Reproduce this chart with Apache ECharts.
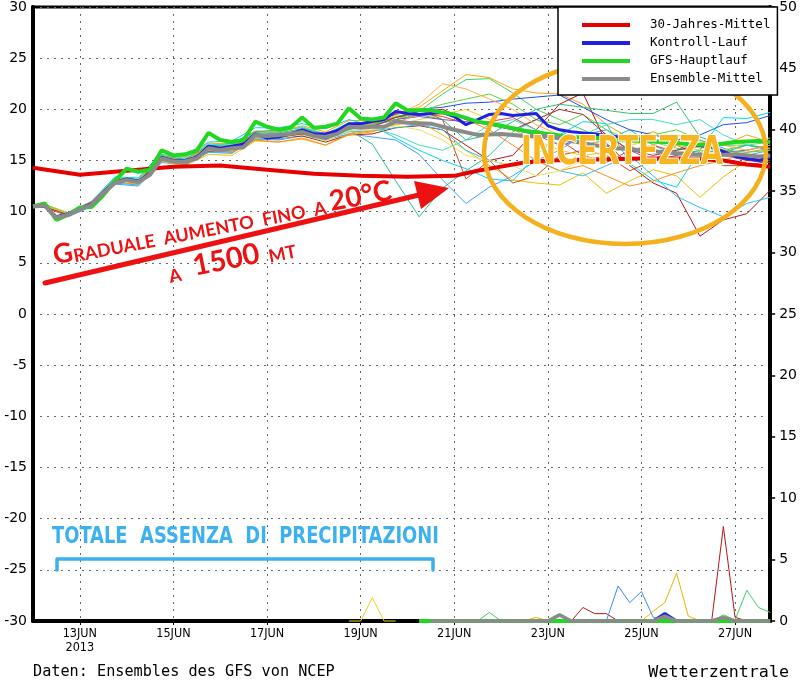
<!DOCTYPE html>
<html><head><meta charset="utf-8">
<script src="https://cdn.jsdelivr.net/npm/echarts@6/dist/echarts.min.js"></script>
<style>html,body{margin:0;padding:0;background:#fff}#c{width:800px;height:681px}</style>
</head><body><div id="c"></div>
<script>
// ---------- DATA (days since 12 Jun 2013 00Z) ----------
const tickDays = [1,3,5,7,9,11,13,15];
const tickLabels = ['13JUN\n2013','15JUN','17JUN','19JUN','21JUN','23JUN','25JUN','27JUN'];

const mainTimes = [0,0.25,0.5,0.75,1,1.25,1.5,1.75,2,2.25,2.5,2.75,3,3.25,3.5,3.75,4,4.25,4.5,4.75,5,5.25,5.5,5.75,6,6.25,6.5,6.75,7,7.25,7.5,7.75,8,8.5,9,9.5,10,10.5,11,11.5,12,12.5,13,13.5,14,14.5,15,15.5,15.75];
const gfsMain = [10.5,10.8,9.2,9.7,10.4,10.45,11.6,13.0,14.2,13.9,14.1,16.0,15.5,15.6,16.0,17.7,17.0,16.8,17.0,18.8,18.3,18.0,18.2,19.2,18.2,18.3,18.6,20.1,19.1,19.0,19.2,20.6,19.9,19.9,19.5,18.8,18.4,17.9,17.6,17.3,17.2,17.0,16.9,16.8,16.6,16.5,16.8,16.9,16.8];
const ensMean = [10.5,10.6,9.4,9.7,10.2,10.7,11.8,12.8,13.1,12.9,13.6,15.2,14.9,14.9,15.2,16.2,16.0,16.2,16.3,17.5,17.4,17.5,17.6,17.8,17.4,17.3,17.6,18.3,18.2,18.3,18.3,18.8,18.7,18.6,18.0,17.5,17.6,17.4,17.4,16.9,16.5,16.2,16.0,15.8,15.6,15.5,15.6,15.4,15.5];

const ctrlTimes = [0,0.25,0.5,0.75,1,1.25,1.5,1.75,2,2.25,2.5,2.75,3,3.25,3.5,3.75,4,4.25,4.5,4.75,5,5.25,5.5,5.75,6,6.25,6.5,6.75,7,7.25,7.5,7.75,8,8.25,8.5,8.75,9,9.25,9.5,9.75,10,10.25,10.5,10.75,11,11.25,11.5,11.75,12,12.5,13,13.5,14,14.5,15,15.5,15.75];
const control = [10.5,10.6,9.5,9.8,10.3,10.8,11.9,12.9,13.2,13.0,13.7,15.3,15.0,15.0,15.3,16.4,16.2,16.4,16.6,17.6,17.2,17.3,17.6,18.0,17.6,17.6,17.9,18.6,18.6,18.8,19.0,19.8,19.6,19.5,19.6,19.7,19.3,18.5,19.0,19.5,19.6,19.4,19.5,19.6,18.4,18.0,17.8,17.7,17.6,17.3,17.0,16.8,16.6,16.3,15.4,15.0,15.3];

const climTimes = [0,1,2,3,4,5,6,7,8,9,9.5,10,10.5,11,12,13,14,14.75,15.25,15.75];
const clim30 = [14.3,13.6,14.0,14.4,14.5,14.1,13.7,13.5,13.4,13.5,14.0,14.4,14.8,15.0,15.1,15.2,15.2,15.0,14.6,14.4];

const memberTimes = [0,0.25,0.75,1.25,1.75,2.25,2.75,3.25,3.75,4.25,4.75,5.25,5.75,6.25,6.75,7.25,7.75,8.25,8.75,9.25,9.75,10.25,10.75,11.25,11.75,12.25,12.75,13.25,13.75,14.25,14.75,15.25,15.75];
const m01 = [10.5,10.7,9.8,10.9,13.3,13.1,15.6,15.3,16.7,16.6,17.9,17.8,18.4,17.8,18.9,18.9,19.6,20.2,21.8,23.4,23.1,22.0,21.6,21.5,20.5,18.5,17.2,17.8,17.0,16.2,16.5,17.5,16.8];
const m02 = [10.5,10.5,9.6,10.6,12.9,12.7,15.1,14.7,15.9,15.8,17.0,17.3,17.5,17.0,18.0,18.5,19.3,19.8,21.5,22.9,23.0,21.6,20.0,19.0,18.0,17.0,17.5,16.8,16.2,15.8,16.0,16.5,16.2];
const m03 = [10.5,10.6,9.8,10.8,13.0,13.0,15.4,15.0,16.4,16.7,17.8,18.0,18.2,17.6,18.0,16.6,13.0,9.5,12.3,14.0,15.5,17.8,19.0,18.0,16.5,17.0,18.0,16.5,15.5,16.0,15.8,16.5,16.0];
const m04 = [10.5,10.6,9.5,10.5,12.7,12.5,14.8,14.6,15.8,15.7,17.1,17.0,17.4,17.0,17.6,17.3,17.0,15.6,13.1,10.8,12.4,13.5,15.0,16.0,17.5,18.0,16.5,15.0,16.0,17.0,16.2,15.5,16.0];
const m05 = [10.5,10.7,9.9,11.0,13.4,13.3,15.8,15.4,16.8,16.9,18.2,18.2,18.6,18.1,19.0,18.4,17.2,16.0,15.0,14.2,13.2,13.0,15.5,17.5,18.8,18.6,14.7,13.1,12.4,16.0,19.2,19.1,19.7];
const m06 = [10.5,10.4,9.6,10.7,13.0,12.8,15.0,14.6,15.9,16.0,17.2,17.2,17.4,16.8,17.5,17.6,18.2,18.4,18.0,16.5,15.0,15.5,18.0,20.5,21.6,16.7,14.5,12.8,11.8,7.6,9.2,9.8,12.1];
const m07 = [10.5,10.6,9.7,10.7,13.0,12.6,14.9,14.5,15.6,15.5,16.9,16.8,17.1,16.5,17.5,17.8,18.5,18.8,17.5,16.0,14.5,13.1,12.8,12.6,13.8,11.8,13.0,14.1,13.5,11.4,13.4,15.0,15.5];
const m08 = [10.5,10.6,9.7,10.9,13.2,13.0,15.4,15.1,16.4,16.4,17.7,17.6,18.0,17.5,18.6,18.8,19.5,20.0,20.2,20.6,20.7,21.0,21.2,21.4,20.2,19.0,18.0,17.5,17.0,17.5,18.5,18.7,19.4];
const m09 = [10.5,10.5,9.7,10.8,13.1,12.8,15.2,14.8,16.0,16.1,17.3,17.1,17.6,17.2,18.2,18.6,19.6,20.0,19.0,13.2,15.0,12.8,13.5,15.5,16.0,15.5,14.0,15.0,16.5,15.5,14.5,14.5,15.0];
const m10 = [10.5,10.6,9.8,10.9,13.2,13.1,15.5,15.1,16.5,16.5,17.8,17.7,18.1,17.6,18.6,18.5,19.0,19.5,19.0,17.0,17.5,18.8,20.0,20.5,20.2,19.9,19.6,19.6,20.7,17.3,16.5,16.5,16.2];
const m11 = [10.5,10.7,9.9,11.0,13.2,13.0,15.2,14.9,16.1,16.3,17.6,17.5,17.9,17.2,18.3,18.2,18.5,19.0,19.5,20.0,19.0,18.0,17.0,16.0,15.5,15.8,16.5,17.0,16.5,16.0,15.5,16.0,16.5];
const m12 = [10.5,10.5,9.6,10.6,12.8,12.6,15.0,14.6,15.8,15.9,17.1,17.1,17.6,17.0,17.8,17.9,18.2,18.5,18.0,16.0,15.0,14.5,15.0,14.0,13.5,14.5,15.5,13.5,11.5,10.4,9.5,10.8,11.4];
const m13 = [10.5,10.6,9.7,10.8,13.1,13.0,15.3,15.0,16.3,16.3,17.5,17.4,17.8,17.3,18.4,18.6,19.2,19.6,19.3,18.6,18.8,19.2,18.0,17.0,15.5,14.8,16.0,16.5,15.8,15.0,15.5,15.0,15.5];
const m14 = [10.5,10.6,9.7,10.8,13.0,12.9,15.2,14.9,16.2,16.1,17.4,17.5,17.7,17.2,18.3,18.4,19.0,19.3,19.0,18.8,18.5,18.0,17.5,16.5,17.0,17.5,16.0,15.0,15.5,16.5,15.8,16.0,16.5];
const m15 = [10.5,10.6,9.8,10.9,13.3,13.2,15.6,15.2,16.6,16.5,17.7,17.8,18.3,17.6,18.7,18.2,17.5,16.5,16.0,17.0,18.5,19.0,18.0,16.5,17.5,18.5,19.0,19.0,18.5,19.0,17.5,16.5,16.8];
const m16 = [10.5,10.5,9.6,10.7,12.9,12.7,15.0,14.7,16.0,15.8,17.0,16.8,17.2,16.5,17.6,17.9,18.7,19.5,20.0,19.0,18.0,16.5,15.0,14.0,14.5,13.5,12.5,13.0,13.8,14.5,15.0,15.8,16.2];
const m17 = [10.5,10.6,9.7,10.7,12.9,12.8,15.1,14.8,16.0,16.0,17.2,17.2,17.5,16.9,17.9,18.0,18.4,18.0,17.0,15.5,15.0,14.5,13.5,14.0,15.0,15.5,16.5,17.0,16.0,15.5,16.0,16.8,17.2];
const m18 = [10.5,10.7,9.8,10.9,13.1,13.0,15.3,15.0,16.3,16.4,17.6,17.5,17.9,17.4,18.5,18.5,19.0,19.8,20.5,21.0,21.5,20.5,19.0,18.5,19.5,18.0,17.0,17.5,18.0,17.0,16.0,15.8,16.0];
const m19 = [10.5,10.5,9.7,10.8,13.0,12.9,15.2,14.8,16.1,16.2,17.4,17.3,17.6,17.1,18.1,18.3,19.2,19.8,20.0,19.0,18.5,18.0,19.0,20.0,19.5,17.5,16.0,15.5,16.0,16.5,16.0,15.0,14.8];
const m20 = [10.5,10.6,9.8,10.9,13.2,13.1,15.4,15.0,16.4,16.3,17.6,17.6,18.0,17.4,18.4,18.6,19.4,20.5,22.5,22.0,21.0,20.0,18.5,17.5,16.5,17.0,16.0,16.5,17.5,16.8,16.5,16.0,16.5];
const members = [m01,m02,m03,m04,m05,m06,m07,m08,m09,m10,m11,m12,m13,m14,m15,m16,m17,m18,m19,m20];

// precipitation (mm / 6h, right axis), [day, mm]
const precipMain = [[8.25,0],[15.75,0]];
const precipMean = [[8.5,0],[11,0],[11.25,0.5],[11.5,0],[13.25,0],[13.5,0.4],[13.75,0],[14.5,0],[14.75,0.3],[15,0],[15.75,0]];
const precipCtrl = [[13.25,0],[13.5,0.6],[13.75,0]];
const precipYellow = [[6.75,0],[7,0],[7.25,1.9],[7.5,0],[7.75,0]];
const precipLightGreen = [[9.25,0],[9.5,0],[9.75,0.7],[10,0],[10.25,0]];
const precipOrangeA = [[10.5,0],[10.75,0.3],[11,0]];
const precipDarkRedA = [[11.5,0],[11.75,1.1],[12,0.6],[12.25,0.6],[12.5,0]];
const precipLightBlue = [[12.25,0],[12.5,2.85],[12.75,1.5],[13,2.4],[13.25,0.3],[13.5,0]];
const precipOrangeB = [[13,0],[13.25,0.8],[13.5,1.5],[13.75,3.9],[14,0.4],[14.25,0]];
const precipDarkRedB = [[14.5,0],[14.75,7.7],[15,0.3],[15.25,0]];
const precipGreenB = [[14.5,0],[14.75,0.5],[15,0.1],[15.25,2.5],[15.5,1.1],[15.75,0.7]];

// ---------- STYLES ----------
const memberColors = ['#ffa500','#40d060','#20c0a0','#40a0ff','#00d8f0','#b01818','#f0c000','#2050f0','#c05020','#30c070',
                      '#e8d020','#30c0f0','#e04040','#8050d0','#40e0c0','#ff8c20','#f0e060','#60d040','#a03030','#ffb040'];
const zip = (t, v) => t.map((x, i) => [x, v[i]]);

const series = [];
members.forEach((m, i) => {
  series.push({type:'line', name:'Member ' + (i+1), data: zip(memberTimes, m), symbol:'none',
    color: memberColors[i], lineStyle:{width:1, color: memberColors[i]}, z:2, silent:true});
});
const precipList = [
  [precipYellow,'#f0d020'],[precipLightGreen,'#40d060'],[precipOrangeA,'#ffa500'],[precipDarkRedA,'#b01818'],
  [precipLightBlue,'#3a8cf0'],[precipOrangeB,'#f0b000'],[precipDarkRedB,'#b01818'],[precipGreenB,'#40d060']
];
precipList.forEach((p, i) => {
  series.push({type:'line', name:'Precip ' + i, yAxisIndex:1, data:p[0], symbol:'none', clip:false,
    color:p[1], lineStyle:{width:1, color:p[1]}, z:2, silent:true});
});
series.push({type:'line', name:'30-Jahres-Mittel', data: zip(climTimes, clim30), symbol:'none', color:'#e80000', lineStyle:{width:4, color:'#e80000'}, z:3});
series.push({type:'line', name:'Kontroll-Lauf', data: zip(ctrlTimes, control), symbol:'none', color:'#2020e0', lineStyle:{width:3, color:'#2020e0'}, z:3});
series.push({type:'line', name:'GFS-Hauptlauf', data: zip(mainTimes, gfsMain), symbol:'none', color:'#20d820', lineStyle:{width:4, color:'#20d820'}, z:3});
series.push({type:'line', name:'Ensemble-Mittel', data: zip(mainTimes, ensMean), symbol:'none', color:'#8a8a8a', lineStyle:{width:4, color:'#8a8a8a'}, z:3});
series.push({type:'line', name:'Kontroll precip', yAxisIndex:1, data: precipCtrl, symbol:'none', clip:false, color:'#2020e0', lineStyle:{width:3, color:'#2020e0'}, z:3});
series.push({type:'line', name:'GFS precip', yAxisIndex:1, data: precipMain, symbol:'none', clip:false, color:'#20d820', lineStyle:{width:4, color:'#20d820'}, z:3});
series.push({type:'line', name:'Mean precip', yAxisIndex:1, data: precipMean, symbol:'none', clip:false, color:'#8a8a8a', lineStyle:{width:3.5, color:'#8a8a8a'}, z:3});

const gridLine = {show:true, lineStyle:{color:'#666', width:1, type:[2,5]}};
const condensed = 'DejaVu Sans Condensed, DejaVu Sans, sans-serif';
const chart = echarts.init(document.getElementById('c'), null, {renderer:'canvas'});
chart.setOption({
  animation:false,
  backgroundColor:'#fff',
  grid:{left:33, right:23, top:7, bottom:60, show:true, borderColor:'#000', borderWidth:3, backgroundColor:'#fff'},
  legend:{
    data:['30-Jahres-Mittel','Kontroll-Lauf','GFS-Hauptlauf','Ensemble-Mittel'],
    orient:'vertical', left:558, top:7, z:10,
    icon:'path://M0 0H48V4H0Z M62.98 0H63V0.02H62.98Z',
    itemWidth:63, itemHeight:4, itemGap:4,
    padding:[11,7,9,24],
    backgroundColor:'#fff', borderColor:'#000', borderWidth:1.5,
    textStyle:{color:'#000', fontFamily:'DejaVu Sans Mono', fontSize:12.5, lineHeight:14},
    selectedMode:false
  },
  xAxis:{
    type:'value', min:0, max:15.75,
    axisLine:{show:true, onZero:false, lineStyle:{color:'#000', width:4}},
    axisTick:{show:true, customValues:tickDays, length:4, lineStyle:{color:'#000', width:1}},
    axisLabel:{customValues:tickDays, color:'#000', fontFamily:condensed,
      fontSize:12.5, lineHeight:14, margin:6,
      formatter: v => { const i = tickDays.indexOf(v); return i >= 0 ? tickLabels[i] : ''; }},
    splitLine:gridLine
  },
  yAxis:[
    {type:'value', min:-30, max:30, interval:5, position:'left',
     axisLine:{show:true, onZero:false, lineStyle:{color:'#000', width:4}},
     axisTick:{show:false},
     axisLabel:{color:'#000', fontFamily:'DejaVu Sans', fontSize:14, margin:6},
     splitLine:gridLine},
    {type:'value', min:0, max:50, interval:5, position:'right',
     axisLine:{show:true, onZero:false, lineStyle:{color:'#000', width:4}},
     axisTick:{show:true, length:5, lineStyle:{color:'#000', width:1.5}},
     axisLabel:{color:'#000', fontFamily:'DejaVu Sans', fontSize:14, margin:9},
     splitLine:{show:false}}
  ],
  series: series,
  graphic:[
    // uncertainty ellipse + label
    {type:'ellipse', z:5, silent:true, shape:{cx:625, cy:152, rx:141, ry:92}, style:{fill:'none', stroke:'#f5b01e', lineWidth:4.5}},
    {type:'text', z:6, silent:true, x:622, y:154, scaleX:0.83,
      style:{text:'INCERTEZZA', align:'center', verticalAlign:'middle',
      fontFamily:condensed, fontWeight:'bold', fontSize:39,
      fill:'#f7b520', stroke:'#ffffff', lineWidth:2}},
    // red arrow
    {type:'line', z:6, silent:true, shape:{x1:45, y1:283, x2:419, y2:195}, style:{stroke:'#ee1111', lineWidth:5, lineCap:'round'}},
    {type:'polygon', z:6, silent:true, shape:{points:[[449,188],[414,181],[421,209]]}, style:{fill:'#ee1111'}},
    {type:'text', z:6, silent:true, x:56, y:269, rotation:0.19,
      style:{text:'{g|G}{s|RADUALE  AUMENTO  FINO  A }{n|20°C}', align:'left', verticalAlign:'bottom', fill:'#ee1111',
        rich:{
          g:{fontFamily:'Lato', fontWeight:'bold', fontSize:27, verticalAlign:'bottom', fill:'#ee1111'},
          s:{fontFamily:'Lato', fontWeight:'bold', fontSize:18, verticalAlign:'bottom', fill:'#ee1111'},
          n:{fontFamily:'Lato', fontWeight:'bold', fontSize:28, verticalAlign:'bottom', fill:'#ee1111'}
        }}},
    {type:'text', z:6, silent:true, x:171, y:286, rotation:0.2,
      style:{text:'{s|A   }{n|1500}{s|  MT}', align:'left', verticalAlign:'bottom', fill:'#ee1111',
        rich:{
          s:{fontFamily:'Lato', fontWeight:'bold', fontSize:18, verticalAlign:'bottom', fill:'#ee1111'},
          n:{fontFamily:'Lato', fontWeight:'bold', fontSize:29, verticalAlign:'bottom', fill:'#ee1111'}
        }}},
    // no precipitation note
    {type:'text', z:6, silent:true, x:52, y:549, scaleX:0.865,
      style:{text:'TOTALE  ASSENZA  DI  PRECIPITAZIONI', align:'left', verticalAlign:'bottom',
      fontFamily:condensed, fontWeight:'bold', fontSize:23, fill:'#3db1ef'}},
    {type:'polyline', z:6, silent:true, shape:{points:[[57,570],[57,559],[433,559],[433,570]]}, style:{stroke:'#3db1ef', lineWidth:3.5, lineCap:'round', lineJoin:'round', fill:'none'}},
    // footer
    {type:'text', silent:true, x:33, y:672, style:{text:'Daten: Ensembles des GFS von NCEP', align:'left', verticalAlign:'middle',
      fontFamily:'DejaVu Sans Mono', fontSize:15.2, fill:'#000'}},
    {type:'text', silent:true, x:789, y:673, style:{text:'Wetterzentrale', align:'right', verticalAlign:'middle',
      fontFamily:'DejaVu Sans Mono', fontSize:16.7, fill:'#000'}}
  ]
});
</script>
</body></html>
